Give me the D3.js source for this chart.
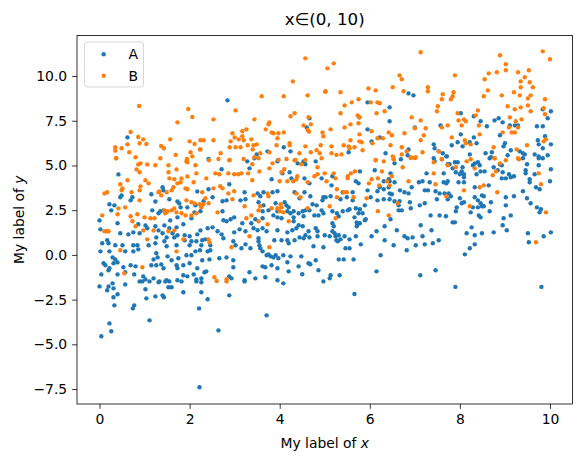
<!DOCTYPE html>
<html lang="en">
<head>
<meta charset="utf-8">
<title>Scatter A / B</title>
<script src="https://d3js.org/d3.v7.min.js"></script>
<style>
  body { margin: 0; background: #fff; }
  svg text { font-family: "DejaVu Sans", sans-serif; fill: #000; }
</style>
</head>
<body>
<script>
// values
var titleText = "x\u2208(0, 10)";
var seriesNames = ["A", "B"];
var seriesColors = ["#1f77b4", "#ff7f0e"];
var xTicks = [0, 2, 4, 6, 8, 10];
var yTicks = [-7.5, -5, -2.5, 0, 2.5, 5, 7.5, 10];

var pointsA = [
  [0.62,6.57],
  [2.84,8.64],[4.66,7.64],[4.6,7.13],[4.09,6.02],[4.24,5.79],[3.73,5.79],[3.49,5.62],[2.42,5.36],[3.97,5.31],
  [6.86,9.03],[6.97,8.92],[5.95,8.53],[6.44,8.25],[5.77,7.69],[6.44,7.47],[7.0,7.13],[7.57,7.24],[5.95,7.02],[6.22,6.57],
  [6.04,6.35],[6.86,5.9],[7.42,6.18],[7.44,5.96],[7.53,5.79],[7.62,5.68],[7.71,5.51],[5.53,5.74],[6.35,5.68],[6.84,5.57],[7.42,5.4],
  [9.84,8.14],[8.31,7.75],[8.02,7.92],[8.46,7.47],[8.6,7.19],[8.77,7.52],[8.86,7.64],[8.95,7.41],[9.11,7.24],[9.22,7.24],
  [9.29,7.24],[8.89,6.69],[9.71,7.19],[9.84,7.19],[9.95,7.64],[10.02,8.03],[8.02,6.74],[7.82,6.13],[7.95,6.3],[8.06,6.07],
  [8.22,6.3],[8.31,6.57],[8.37,6.24],[8.57,5.68],[8.71,5.74],[8.97,6.07],[9.0,6.24],[9.13,5.85],[9.33,5.79],[9.4,5.68],
  [9.44,5.62],[9.66,5.62],[9.75,5.51],[9.73,6.41],[9.75,6.18],[9.89,6.63],[9.84,5.96],[10.02,6.18],[9.95,5.57],[8.22,5.62],
  [7.7,5.51],[8.69,5.46],[9.06,5.57],
  // x 0 - 2.2
  [0.42,4.5],[1.4,3.78],[1.42,3.61],[1.24,2.99],[1.15,3.39],[2.17,3.55],[0.46,3.22],[0.49,3.33],[0.69,3.05],[0.73,3.22],
  [1.55,3.11],[1.77,2.88],[1.73,2.99],[1.8,2.66],[1.95,2.66],[2.13,2.77],[2.11,2.38],[2.24,2.44],[0.22,2.83],[0.26,2.49],
  [0.33,2.77],[1.17,2.49],[1.35,2.44],[1.42,2.49],[0.0,1.93],[1.31,2.33],[1.57,1.93],[1.73,2.1],[2.04,2.05],[1.86,1.71],
  [0.4,1.77],[0.86,1.71],[1.02,1.65],[1.06,1.49],[1.24,1.6],[1.31,1.37],[1.44,1.65],[1.55,1.49],[1.71,1.54],[0.02,1.43],
  [0.46,1.21],[0.64,1.15],[0.75,1.26],[0.89,1.21],[1.26,0.98],[1.49,0.98],[1.4,1.21],[1.62,1.21],[1.66,0.98],[1.73,1.1],
  [1.89,1.1],[2.0,1.04],[2.04,0.76],[2.17,1.15],[2.24,1.37],[0.17,0.82],[0.06,0.65],[0.2,0.65],[0.35,0.54],[0.51,0.54],
  [0.75,0.54],[0.84,0.54],[0.86,0.31],[1.09,0.54],[1.24,0.65],[1.44,0.76],[1.49,0.48],[1.71,0.54],[1.89,0.82],[2.0,0.54],
  [2.15,0.76],[2.26,0.54],[0.02,0.2],[0.22,0.2],[0.29,-0.14],[0.35,-0.25],[0.57,0.2],[0.75,0.2],[1.93,-0.02],[2.04,-0.02],
  [2.13,0.2],[1.26,0.09],[1.29,-0.14],[1.2,-0.25],[1.51,-0.08],[1.6,-0.3],[1.75,-0.19],[0.09,-0.47],[0.13,-0.58],[0.22,-0.75],
  [0.31,-0.47],[0.4,-0.42],[0.53,-0.69],[0.69,-0.58],[0.8,-0.64],[1.15,-0.58],[1.26,-0.58],[1.37,-0.53],[1.42,-0.75],[1.71,-0.58],
  [1.73,-0.75],[1.86,-0.58],[2.0,-0.47],[2.17,-0.75],[0.04,-1.09],[0.2,-0.86],[0.4,-1.09],[0.57,-0.97],[0.77,-1.09],[0.97,-1.2],
  [1.02,-1.37],[1.2,-1.31],[1.33,-1.48],[1.49,-1.42],[1.73,-1.42],[1.86,-1.14],[1.95,-1.2],[2.09,-1.09],[2.15,-1.37],
  [0.0,-1.76],[0.2,-1.76],[0.29,-1.59],[0.31,-1.87],[0.17,-1.98],[0.4,-2.2],[0.31,-2.37],[0.57,-1.65],[0.89,-1.48],[0.95,-1.48],
  [1.11,-1.48],[1.02,-1.92],[1.31,-1.53],[1.46,-1.48],[1.55,-1.48],[1.53,-1.81],[1.6,-1.81],[1.82,-1.48],[1.86,-2.09],[2.15,-1.48],
  [2.26,-1.53],[2.26,-2.09],[0.33,-2.82],[0.74,-2.99],[0.77,-2.82],[1.04,-2.43],[1.24,-2.32],[1.4,-2.26],[1.43,-2.37],[2.21,-2.99],
  [0.22,-3.83],[0.26,-4.27],[0.04,-4.55],[1.11,-3.66],[2.22,-7.4],
  // x 2.2 - 5
  [3.44,5.4],[3.28,5.23],[3.95,5.23],[4.4,5.12],[4.53,5.23],[4.57,5.07],[4.8,5.23],[2.71,4.79],[3.33,4.84],[3.82,4.23],
  [4.06,4.56],[4.22,4.62],[4.26,4.28],[4.55,4.28],[4.66,4.0],[4.93,4.28],[2.31,3.0],[2.42,3.67],[2.51,3.22],[2.73,3.0],
  [2.82,3.05],[2.88,3.95],[3.22,3.5],[3.51,3.44],[3.57,3.28],[3.64,3.5],[3.84,3.5],[3.95,3.56],[3.91,2.89],[4.11,2.94],
  [4.15,2.77],[4.2,2.66],[4.33,3.5],[4.44,3.17],[4.55,3.5],[4.68,3.28],[4.73,2.83],[4.82,2.77],[4.95,3.05],[4.57,2.49],
  [4.66,2.49],[4.93,2.49],[3.13,3.05],[3.24,3.11],[3.53,2.94],[3.64,2.77],[3.62,2.44],[3.75,2.49],[3.95,2.44],[4.17,2.44],
  [4.24,2.33],[4.31,2.44],[4.42,2.33],[4.51,2.44],[2.73,2.44],[2.75,1.94],[2.82,1.88],[2.91,1.99],[2.99,2.1],[3.17,1.77],
  [3.37,1.77],[3.46,1.99],[3.62,2.05],[3.86,2.21],[3.95,2.1],[4.04,2.05],[4.31,2.1],[4.31,1.88],[4.53,2.16],[4.77,2.21],
  [4.86,2.21],[4.97,2.33],[2.4,1.49],[2.51,1.54],[2.62,1.32],[2.71,1.15],[2.99,1.26],[3.11,1.43],[3.24,1.32],[3.42,1.49],
  [3.51,1.38],[3.62,1.49],[3.71,1.32],[3.95,1.38],[4.17,1.26],[4.28,1.38],[4.37,1.49],[4.42,1.66],[4.51,1.6],[4.64,1.32],
  [4.8,1.49],[4.84,1.32],[4.57,1.1],[4.66,0.98],[4.84,1.04],[2.28,0.82],[2.35,0.87],[2.46,0.54],[2.75,0.93],[2.97,0.76],
  [3.02,0.54],[3.53,0.93],[3.53,0.76],[3.24,0.59],[3.55,0.54],[3.57,0.37],[3.88,0.82],[4.04,0.82],[4.17,0.82],[4.2,0.65],
  [4.33,0.82],[4.44,0.98],[4.53,0.93],[4.75,0.48],[2.23,0.26],[2.4,0.2],[2.46,0.26],[3.15,0.37],[3.35,0.37],[3.62,0.2],
  [3.71,-0.02],[3.75,0.03],[3.8,-0.08],[3.86,-0.14],[3.91,-0.02],[3.97,-0.19],[4.08,-0.02],[4.24,-0.08],[4.48,-0.08],[4.8,-0.3],
  [2.28,-0.3],[2.44,-0.25],[2.66,-0.19],[2.82,-0.14],[2.97,-0.3],[2.97,-0.69],[3.62,-0.64],[3.68,-0.69],[3.82,-0.58],[3.95,-0.75],
  [4.17,-0.41],[4.42,-0.64],[4.64,-0.47],[4.68,-0.52],[2.33,-0.97],[2.37,-0.92],[2.26,-1.31],[2.88,-1.2],[2.93,-1.31],[3.22,-1.42],
  [3.33,-0.97],[3.46,-1.31],[3.68,-1.25],[3.95,-1.42],[4.2,-0.92],[4.5,-1.08],[4.86,-0.86],[4.97,-1.48],
  [3.22,-1.48],[4.08,-1.59],[2.4,-2.48],[2.88,-2.26],[3.71,-3.38],[2.64,-4.22],
  // x 5 - 7.7
  [6.69,5.35],[7.44,5.23],[7.6,5.35],[7.73,5.07],[6.55,5.12],[5.15,3.89],[5.17,4.4],[5.78,4.67],[5.75,4.0],[5.69,4.12],
  [5.95,3.61],[6.11,4.73],[6.31,4.12],[6.42,4.23],[6.44,4.12],[6.46,4.56],[6.55,4.06],[6.44,3.44],[6.49,3.39],[6.42,3.78],
  [6.22,3.78],[6.17,3.56],[6.31,3.67],[6.67,3.61],[6.77,3.5],[6.93,3.78],[6.86,3.44],[7.09,4.06],[7.17,4.12],[7.22,3.61],
  [7.29,3.61],[7.26,4.56],[7.33,4.06],[7.46,3.56],[7.64,4.56],[7.64,4.06],[7.66,3.44],[7.75,3.44],[7.55,3.44],[7.49,3.11],
  [7.73,3.11],[5.4,3.5],[5.62,3.5],[4.97,3.22],[5.02,3.22],[5.13,3.28],[5.35,3.11],[5.49,3.22],[5.62,3.05],[6.02,3.22],
  [6.17,3.05],[6.31,3.11],[6.44,3.11],[6.55,3.0],[6.66,3.0],[6.64,2.77],[6.89,2.94],[6.91,2.61],[7.11,2.77],[7.22,2.89],
  [5.89,2.77],[5.17,2.44],[5.27,2.33],[5.31,2.16],[5.4,2.44],[5.51,2.49],[5.55,2.55],[5.69,2.61],[5.78,2.55],[5.75,2.33],
  [5.84,2.33],[5.89,1.94],[5.91,1.99],[5.66,2.1],[5.71,1.82],[5.73,1.71],[5.78,1.77],[5.71,1.6],[6.46,1.99],[6.64,2.49],
  [6.71,2.49],[7.35,2.21],[7.55,2.21],[7.69,2.16],[5.17,1.77],[5.2,1.6],[5.17,1.32],[5.22,1.21],[5.24,1.04],[5.31,1.1],
  [5.26,0.82],[5.29,0.76],[5.35,0.87],[5.44,1.04],[5.55,0.87],[5.69,1.04],[6.04,1.04],[6.15,1.32],[6.33,1.6],[6.33,0.82],
  [6.6,1.38],[6.77,1.04],[6.84,0.93],[6.95,0.98],[7.13,1.66],[7.17,1.04],[7.37,1.38],[7.53,0.82],[7.4,0.65],[7.22,0.59],
  [7.02,0.54],[6.82,0.26],[6.53,0.54],[5.0,1.1],[5.11,1.04],[4.97,0.43],[5.46,0.37],[5.55,0.37],[5.8,0.59],[6.24,-0.02],
  [5.31,-0.25],[5.42,-0.25],[5.64,-0.25],[6.15,-0.92],[5.13,-1.14],[5.11,-1.31],[5.33,-1.14],[7.12,-1.14],[7.46,-0.86],
  [5.66,-2.19],
  // x 7.7 - 10
  [7.77,5.07],[7.89,5.18],[7.95,5.18],[7.84,4.84],[7.91,4.62],[8.0,4.51],[8.04,4.67],[8.09,4.51],[8.06,4.9],[8.29,5.01],
  [8.33,5.12],[8.4,5.18],[8.44,5.01],[8.46,4.67],[8.37,4.51],[8.55,4.67],[8.66,5.4],[8.89,5.07],[8.93,5.01],[8.75,4.9],
  [8.95,4.62],[8.84,4.73],[8.93,4.28],[9.02,4.28],[9.09,4.51],[9.13,4.34],[9.2,4.4],[9.4,5.4],[9.49,5.07],[9.46,4.73],
  [9.46,4.56],[9.55,4.23],[9.55,4.06],[9.66,4.51],[9.75,5.01],[9.75,5.4],[9.84,5.4],[10.02,4.79],[10.0,4.12],[9.69,3.78],
  [9.77,3.67],[9.4,3.56],[9.49,3.17],[7.73,4.12],[7.7,4.0],[7.97,4.06],[8.09,4.06],[8.09,4.34],[8.33,3.78],[8.64,3.89],
  [8.49,3.33],[8.53,3.28],[8.33,3.22],[8.4,3.05],[8.46,2.89],[8.53,2.72],[8.69,2.94],[9.02,3.22],[9.2,3.28],[9.02,2.77],
  [8.66,2.44],[8.0,3.17],[8.09,2.94],[8.04,2.89],[7.93,2.66],[7.91,2.44],[7.8,3.28],[8.29,2.66],[8.24,2.38],[8.4,2.66],
  [8.49,2.72],[8.42,2.21],[8.46,2.1],[9.13,2.21],[8.97,2.05],[8.95,1.66],[9.04,1.38],[8.75,1.26],[8.49,1.21],[8.33,1.1],
  [8.15,1.21],[8.26,1.54],[7.84,1.82],[7.89,1.82],[9.57,2.89],[9.71,2.66],[9.8,2.55],[9.77,2.38],[10.02,1.26],[9.86,1.04],
  [9.51,1.21],[9.53,0.71],[8.33,0.59],[8.22,0.37],[8.11,0.03],[7.9,-1.79],[9.81,-1.79]
];

var pointsB = [
  [0.88,8.33],[1.97,8.16],[2.06,7.71],[1.73,7.41],[0.69,6.87],[0.86,6.59],[0.97,6.46],[0.62,6.18],[0.89,6.24],[1.04,6.2],
  [1.57,6.46],[0.35,6.02],[0.35,5.83],[0.49,5.96],[0.66,5.74],[1.37,6.09],[1.43,5.96],[2.0,6.35],[2.11,6.2],[2.24,6.41],
  [2.24,5.9],[2.02,5.74],[2.06,5.51],[1.69,5.59],[1.35,5.4],[0.8,5.46],[0.37,5.4],[1.94,5.36],
  [4.57,10.99],[4.29,9.7],[5.01,9.12],[4.62,8.92],[3.6,8.87],[4.09,8.87],[3.02,8.08],[2.53,7.58],[3.44,7.58],[4.24,7.75],
  [4.33,7.92],[4.64,7.7],[3.75,7.3],[3.77,7.41],[4.53,7.24],[4.69,7.3],[4.62,6.98],[4.65,6.89],[3.69,7.02],[3.26,7.02],
  [3.17,6.91],[2.95,6.8],[3.0,6.57],[3.09,6.46],[3.17,6.63],[2.91,6.35],[3.82,6.85],[3.86,6.8],[3.97,6.8],[4.09,6.85],
  [3.95,6.52],[3.37,6.46],[3.2,6.41],[2.31,6.41],[2.53,6.41],[4.95,6.85],[4.97,6.63],[4.22,6.24],[4.22,6.13],[3.93,6.13],
  [3.49,6.18],[3.42,6.13],[3.29,6.13],[2.89,6.02],[3.02,6.02],[3.13,6.02],[3.4,5.9],[4.57,6.07],[4.91,6.13],[4.82,5.85],
  [4.69,5.74],[4.44,5.68],[3.77,5.74],[3.57,5.68],[3.44,5.46],[2.69,5.68],[2.23,5.9],[2.64,5.36],[2.89,5.31],[3.2,5.36],
  [3.53,5.4],[3.97,5.31],[4.15,5.36],[4.35,5.31],[4.57,5.31],[4.89,5.68],[4.93,5.4],
  [7.13,11.33],[5.2,10.71],[5.06,10.43],[6.66,10.04],[6.71,9.82],[7.29,9.37],[7.29,9.15],[6.51,9.37],[5.97,9.31],[6.13,9.2],
  [6.75,9.15],[7.62,8.98],[7.6,8.7],[5.02,9.15],[5.35,9.09],[5.75,8.7],[5.6,8.53],[6.02,8.53],[6.17,8.53],[6.22,8.48],
  [5.44,8.36],[6.33,8.03],[7.51,8.31],[7.49,8.03],[5.35,7.92],[5.73,7.8],[5.77,7.69],[6.15,7.92],[6.93,7.69],[7.13,7.52],
  [5.57,7.3],[5.75,7.36],[5.44,7.13],[5.13,7.02],[7.0,7.08],[7.24,7.08],[7.6,7.13],[6.04,6.91],[6.42,6.85],[6.49,6.69],
  [6.77,6.8],[5.77,6.74],[7.2,6.69],[7.13,6.41],[6.17,6.52],[6.29,6.52],[5.57,6.41],[5.77,6.35],[5.82,6.3],[6.06,6.24],
  [5.15,6.07],[5.42,6.13],[5.53,6.07],[5.55,5.96],[5.66,6.02],[6.46,6.13],[6.71,6.02],[6.82,5.79],[7.53,5.79],[5.84,5.85],
  [5.15,5.68],[5.26,5.59],[5.37,5.62],[6.51,5.51],[6.71,5.62],[7.17,5.74],[6.91,5.46],[7.02,5.46],[6.13,5.31],[6.53,5.35],[7.6,5.36],
  [9.84,11.38],[10.0,10.94],[8.89,11.16],[9.02,10.66],[9.02,10.32],[8.82,10.21],[8.64,10.15],[8.55,9.82],[9.29,10.21],[9.53,10.32],
  [9.44,9.93],[9.35,9.7],[9.55,9.65],[9.62,9.37],[9.35,9.37],[7.89,10.04],[8.62,9.2],[7.86,9.09],[7.84,8.87],[7.8,8.7],
  [8.53,8.87],[8.93,8.92],[9.2,9.09],[9.33,8.92],[9.57,8.92],[9.51,8.75],[9.89,8.7],[9.06,8.31],[9.22,8.14],[9.35,8.25],
  [9.51,8.36],[9.57,8.03],[9.86,8.2],[8.4,8.08],[8.35,7.8],[7.95,7.92],[8.09,7.58],[8.13,7.47],[7.97,7.52],[8.42,7.24],
  [8.04,7.24],[9.11,7.69],[9.24,7.47],[9.37,7.58],[9.09,7.13],[9.29,7.13],[9.22,6.85],[9.15,6.85],[8.95,6.85],[9.89,7.86],
  [7.73,7.24],[7.82,6.57],[8.11,6.41],[8.13,6.24],[8.24,6.18],[8.44,6.74],[8.75,6.02],[9.26,5.9],[9.49,6.13],[9.86,6.35],
  [9.91,6.46],[8.77,5.4],[9.29,5.4],
  // lower band
  [0.37,5.4],[0.86,5.06],[0.91,5.12],[1.06,5.06],[1.24,5.01],[1.53,5.01],[1.93,5.23],[1.95,5.18],[2.13,5.01],[0.82,4.78],
  [0.89,4.62],[1.53,4.62],[1.71,4.78],[2.15,4.56],[0.11,3.44],[0.17,3.5],[0.46,3.95],[0.62,4.17],[1.02,4.17],[1.09,4.0],
  [1.55,4.28],[1.66,4.23],[1.73,4.0],[1.8,4.06],[1.82,4.28],[2.09,4.06],[1.95,4.39],[0.49,3.61],[0.51,3.72],[0.89,3.61],
  [0.91,3.83],[0.71,3.5],[1.31,3.5],[1.33,3.55],[1.37,3.33],[1.49,3.5],[1.6,3.61],[1.64,3.78],[1.91,3.72],[1.95,3.67],
  [0.89,3.05],[1.93,3.05],[2.04,2.94],[2.11,2.88],[2.22,2.83],[2.26,2.66],[0.42,2.6],[0.57,2.66],[1.44,2.49],[1.51,2.44],
  [1.6,2.49],[1.66,2.6],[1.71,2.38],[1.82,2.33],[1.91,2.21],[2.04,2.21],[2.15,2.33],[0.06,2.21],[0.4,2.27],[0.69,2.16],
  [0.84,2.27],[1.0,2.1],[1.13,2.05],[1.22,2.05],[1.46,2.33],[0.73,1.88],[0.8,1.6],[0.97,1.37],[1.2,1.37],[1.53,1.32],
  [1.66,1.37],[0.11,1.32],[0.15,1.32],[0.2,1.32],[1.06,0.87],[1.86,0.87],[0.46,0.26],[1.71,0.2],[0.95,-0.69],[0.55,-1.03],
  [2.43,5.29],[2.88,5.29],[3.39,5.07],[3.84,5.12],[4.33,5.29],[4.48,5.07],[4.84,4.9],[2.37,4.28],[2.57,4.56],[2.66,4.51],
  [2.86,4.56],[2.99,4.51],[3.08,4.51],[3.15,4.56],[3.3,4.56],[3.39,4.17],[3.55,4.67],[3.77,4.84],[4.0,4.12],[4.04,4.62],
  [4.1,4.79],[4.17,4.12],[4.3,4.12],[4.37,4.23],[4.39,4.4],[4.62,4.06],[4.77,4.4],[4.84,4.51],[2.28,3.5],[2.35,3.17],
  [2.53,3.72],[2.68,3.84],[2.73,3.72],[2.86,3.44],[2.99,3.56],[2.3,2.83],[2.42,2.89],[2.95,3.11],[3.42,3.33],[3.73,3.44],
  [3.75,3.28],[4.02,2.83],[4.04,2.66],[4.37,3.44],[4.46,3.22],[4.62,2.61],[3.22,2.72],[3.57,2.72],[3.53,2.49],[3.82,2.61],
  [3.95,2.61],[4.0,2.44],[4.08,2.38],[2.62,2.38],[3.26,2.05],[3.37,2.21],[3.53,1.88],[3.73,1.71],[4.2,1.88],[2.42,0.87],
  [2.44,0.71],[3.33,1.04],[3.77,0.43],[2.93,0.43],[2.55,-1.25],[2.82,-1.36],[2.82,-1.48],[2.6,-1.46],
  [6.13,5.29],[6.31,5.23],[6.53,5.35],[6.73,4.9],[6.91,5.42],[7.0,5.42],[7.42,5.18],[5.0,4.56],[5.04,4.12],[5.2,4.56],
  [5.24,4.28],[5.27,3.67],[5.42,3.5],[5.49,3.5],[5.51,4.28],[5.51,4.4],[5.58,4.56],[5.67,4.67],[5.98,4.0],[6.04,4.23],
  [6.18,4.28],[6.27,4.67],[6.38,4.12],[6.44,3.89],[6.49,4.4],[6.21,3.89],[6.86,4.12],[7.42,4.56],[7.46,3.95],[5.11,2.72],
  [5.27,3.22],[5.64,3.22],[5.93,3.17],[6.62,2.89],[5.24,2.05],[6.18,2.44],[6.42,2.21],
  [7.73,5.01],[7.91,4.9],[8.15,5.23],[8.24,5.35],[8.33,4.84],[8.89,5.12],[9.02,5.29],[8.77,5.4],[8.8,4.67],[8.73,4.45],
  [9.31,5.35],[9.75,4.56],[9.8,3.95],[8.09,3.61],[8.44,3.78],[8.53,3.89],[8.83,3.5],[7.7,3.28],[8.22,2.72],[9.91,2.38],[9.69,0.71]
];

var width = 582, height = 461;
var margin = {top: 35.5, right: 9.5, bottom: 57, left: 77};
var fs = 13.9;

var svg = d3.select("body").append("svg")
    .attr("width", width)
    .attr("height", height);

var x = d3.scaleLinear()
    .domain([-0.5, 10.5])
    .range([margin.left, width - margin.right]);

var y = d3.scaleLinear()
    .domain([-8.336, 12.267])
    .range([height - margin.bottom, margin.top]);

var series = [pointsA, pointsB];

// points, A first then B on top
series.forEach(function(pts, i) {
    svg.append("g")
        .selectAll("circle")
        .data(pts)
        .enter()
        .append("circle")
        .attr("cx", function(d) { return x(d[0]); })
        .attr("cy", function(d) { return y(d[1]); })
        .attr("r", 2.2)
        .attr("fill", seriesColors[i]);
});

// axes
var xAxis = svg.append("g")
    .attr("transform", "translate(0," + (height - margin.bottom) + ")")
    .call(d3.axisBottom(x).tickValues(xTicks).tickSizeOuter(0).tickSize(4.9).tickPadding(4.9)
        .tickFormat(d3.format("d")));

var yAxis = svg.append("g")
    .attr("transform", "translate(" + margin.left + ",0)")
    .call(d3.axisLeft(y).tickValues(yTicks).tickSizeOuter(0).tickSize(4.9).tickPadding(4.9)
        .tickFormat(d3.format(".1f")));

[xAxis, yAxis].forEach(function(g) {
    g.select(".domain").remove();
    g.attr("font-size", fs).attr("font-family", "DejaVu Sans");
    g.selectAll(".tick line").attr("stroke", "#000").attr("stroke-width", 0.8);
    g.selectAll(".tick text").attr("fill", "#000");
});

// frame
svg.append("rect")
    .attr("x", margin.left)
    .attr("y", margin.top)
    .attr("width", width - margin.right - margin.left)
    .attr("height", height - margin.bottom - margin.top)
    .attr("fill", "none")
    .attr("stroke", "#000")
    .attr("stroke-width", 0.8);

// title
svg.append("text")
    .attr("x", (margin.left + width - margin.right) / 2)
    .attr("y", 25)
    .attr("text-anchor", "middle")
    .attr("font-size", 16.7)
    .text(titleText);

// axis labels
var xl = svg.append("text")
    .attr("x", (margin.left + width - margin.right) / 2)
    .attr("y", 448)
    .attr("text-anchor", "middle")
    .attr("font-size", fs);
xl.append("tspan").text("My label of ");
xl.append("tspan").attr("font-style", "italic").text("x");

var yl = svg.append("text")
    .attr("transform", "translate(24," + ((margin.top + height - margin.bottom) / 2) + ") rotate(-90)")
    .attr("text-anchor", "middle")
    .attr("font-size", fs);
yl.append("tspan").text("My label of ");
yl.append("tspan").attr("font-style", "italic").text("y");

// legend
var legend = svg.append("g").attr("transform", "translate(84.5,42)");
legend.append("rect")
    .attr("width", 59)
    .attr("height", 45)
    .attr("rx", 3)
    .attr("fill", "#fff")
    .attr("fill-opacity", 0.8)
    .attr("stroke", "#d6d6d6")
    .attr("stroke-width", 1);

seriesNames.forEach(function(name, i) {
    var row = legend.append("g").attr("transform", "translate(0," + (12.3 + i * 21.4) + ")");
    row.append("circle")
        .attr("cx", 19.2)
        .attr("r", 2.2)
        .attr("fill", seriesColors[i]);
    row.append("text")
        .attr("x", 44)
        .attr("y", 5)
        .attr("font-size", fs)
        .text(name);
});
</script>
</body>
</html>
